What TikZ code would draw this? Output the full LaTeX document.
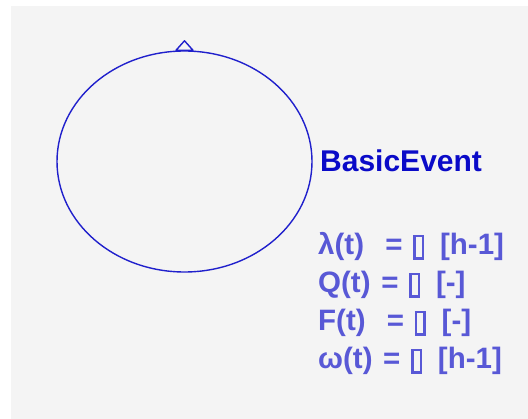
\documentclass[tikz,border=0pt]{standalone}
\usepackage{fontspec}
\setmainfont{Liberation Sans}
\newfontfamily\propfont[WordSpace=1.3]{Liberation Sans}
\usepackage{tikz}
\usetikzlibrary{shapes.geometric,positioning}

\definecolor{panelgray}{HTML}{F4F4F4}
\definecolor{eventblue}{HTML}{2020CC}
\definecolor{titleblue}{HTML}{0A0AC8}
\definecolor{propblue}{HTML}{5858D6}

% empty glyph box, as the source prints a missing character
\newcommand{\nochar}{\raisebox{-2.5pt}{\fboxsep=0pt\fboxrule=2.6pt\fbox{\rule{0pt}{20pt}\hspace{6pt}}}\kern5pt}

\begin{document}
\begin{tikzpicture}[
    x=1pt, y=-1pt,
    event/.style={draw=eventblue, ellipse, line width=1.4pt, minimum width=255pt, minimum height=221pt, inner sep=0pt},
    title/.style={anchor=base west, inner sep=0pt, text=titleblue, font=\bfseries\fontsize{30}{36}\selectfont},
    prop/.style={anchor=base west, inner sep=0pt, text=propblue, font=\propfont\bfseries\fontsize{29.5}{36}\selectfont}
]
\useasboundingbox (0,0) rectangle (528,419);
\fill[panelgray] (11,6) rectangle (528,419);

\node[event] (basic) at (184.5,161.5) {};
\draw[eventblue, line width=1.4pt, line join=round]
    ([xshift=-8.5pt]basic.north) -- ++(8.5,-9.5) -- ++(8.5,9.5) -- cycle;

\node[title] (name) at (320,172) {BasicEvent};

\node[prop] (lambda) at (318,255) {λ(t)~\ = \nochar{} [h-1]};
\node[prop] (unavail) at (318,293) {Q(t) = \nochar{} [-]};
\node[prop] (unrel) at (318,331) {F(t)~\ = \nochar{} [-]};
\node[prop] (freq) at (318,369) {ω(t) = \nochar{} [h-1]};
\end{tikzpicture}
\end{document}
